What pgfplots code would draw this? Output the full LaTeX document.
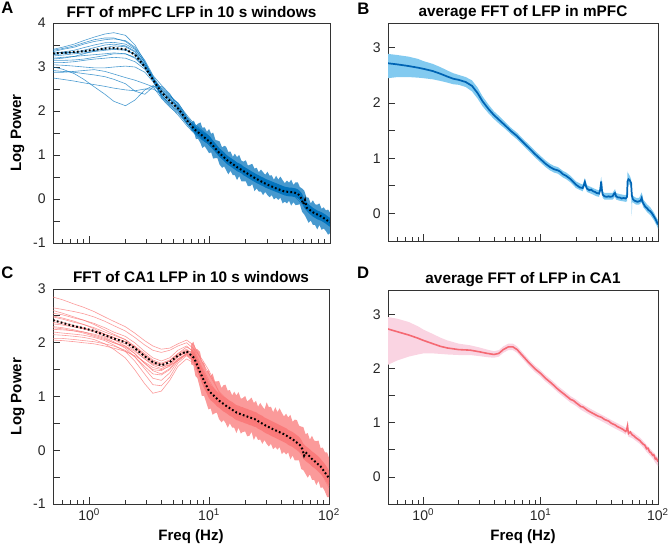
\documentclass[border=0pt]{standalone}
\usepackage{fontspec}
\setmainfont{Liberation Sans}
\usepackage{pgfplots}
\usepackage{pgfplotstable}
\usepgfplotslibrary{fillbetween}
\pgfplotsset{compat=1.18}

\definecolor{mblue}{RGB}{0,114,189}
\definecolor{bline}{RGB}{0,100,180}
\definecolor{bband}{RGB}{130,202,240}
\definecolor{cpink}{RGB}{250,120,120}
\definecolor{dline}{RGB}{245,105,115}
\definecolor{dband}{RGB}{250,212,226}

\pgfplotstableread{
f c1 c2 c3 c4 c5 c6 c7 c8 c9 c10 c11 c12 c13 c14 c15 c16
0.5 3.40 3.35 3.30 3.32 3.25 3.20 3.15 3.10 3.05 3.00 2.75 2.92 2.88 3.38 3.28 3.18
0.6 3.45 3.40 3.34 3.33 3.27 3.22 3.15 3.10 3.04 2.95 2.72 2.90 2.88 3.42 3.30 3.20
0.75 3.52 3.45 3.38 3.33 3.30 3.24 3.16 3.12 3.02 2.85 2.68 2.88 2.90 3.48 3.33 3.24
0.9 3.60 3.52 3.44 3.35 3.32 3.26 3.18 3.15 3.00 2.72 2.64 2.85 2.92 3.55 3.38 3.30
1.1 3.68 3.58 3.50 3.38 3.35 3.28 3.22 3.18 2.98 2.55 2.60 2.82 2.94 3.62 3.44 3.36
1.35 3.75 3.62 3.55 3.40 3.38 3.30 3.26 3.20 2.98 2.38 2.56 2.78 2.90 3.66 3.50 3.44
1.6 3.78 3.64 3.56 3.42 3.40 3.32 3.30 3.22 3.00 2.22 2.52 2.72 2.84 3.66 3.52 3.48
2.0 3.72 3.60 3.52 3.40 3.38 3.30 3.30 3.20 3.02 2.12 2.48 2.62 2.76 3.58 3.48 3.46
2.4 3.50 3.45 3.40 3.28 3.30 3.20 3.22 3.12 3.00 2.25 2.46 2.45 2.70 3.42 3.36 3.34
2.9 3.12 3.15 3.10 3.02 3.05 2.98 3.00 2.95 2.88 2.48 2.50 2.38 2.62 3.10 3.06 3.04
3.4 2.72 2.80 2.76 2.70 2.74 2.68 2.72 2.70 2.66 2.58 2.50 2.55 2.55 2.78 2.74 2.72
4.0 2.45 2.58 2.36 2.30 2.50 2.34 2.46 2.52 2.32 2.40 2.38 2.56 2.28 2.48 2.42 2.36
4.7 2.30 2.38 2.14 2.10 2.32 2.12 2.28 2.34 2.18 2.20 2.24 2.36 2.08 2.26 2.26 2.16
5.5 2.12 2.04 2.00 1.90 2.18 1.96 2.10 2.16 2.02 2.04 2.10 2.14 1.94 2.08 2.06 1.98
6.5 1.86 1.72 1.78 1.66 1.86 1.72 1.82 1.90 1.76 1.70 1.80 1.84 1.70 1.78 1.82 1.72
7.5 1.66 1.52 1.62 1.48 1.66 1.54 1.60 1.70 1.56 1.50 1.60 1.64 1.52 1.58 1.62 1.54
8.7 1.54 1.36 1.50 1.34 1.52 1.40 1.46 1.56 1.44 1.38 1.48 1.50 1.38 1.44 1.50 1.40
10 1.42 1.22 1.36 1.24 1.40 1.26 1.32 1.42 1.30 1.24 1.34 1.36 1.26 1.32 1.36 1.28
12 1.12 1.02 1.10 1.06 1.04 1.00 1.06 1.04 1.06 1.04 1.04 1.08 1.04 1.06 1.06 1.04
14 0.95 0.84 0.92 0.88 0.86 0.84 0.90 0.86 0.88 0.86 0.88 0.90 0.86 0.90 0.88 0.86
17 0.80 0.68 0.76 0.72 0.70 0.70 0.74 0.70 0.72 0.70 0.72 0.72 0.70 0.74 0.72 0.70
20 0.66 0.58 0.64 0.60 0.58 0.56 0.62 0.60 0.60 0.58 0.60 0.62 0.58 0.62 0.60 0.58
24 0.55 0.44 0.50 0.46 0.45 0.44 0.48 0.46 0.48 0.46 0.46 0.48 0.46 0.48 0.48 0.46
29 0.42 0.30 0.40 0.36 0.33 0.32 0.38 0.34 0.36 0.34 0.36 0.36 0.34 0.36 0.36 0.34
35 0.30 0.20 0.30 0.24 0.22 0.24 0.26 0.24 0.26 0.24 0.26 0.26 0.24 0.26 0.26 0.24
42 0.22 0.12 0.20 0.16 0.15 0.16 0.18 0.18 0.18 0.16 0.18 0.18 0.16 0.18 0.18 0.16
50 0.20 0.08 0.18 0.12 0.14 0.16 0.16 0.14 0.16 0.12 0.16 0.14 0.12 0.16 0.16 0.14
60 -0.02 -0.15 -0.05 -0.10 -0.08 -0.06 -0.04 -0.10 -0.06 -0.10 -0.06 -0.08 -0.10 -0.08 -0.06 -0.08
72 -0.25 -0.38 -0.28 -0.32 -0.30 -0.28 -0.26 -0.32 -0.30 -0.32 -0.28 -0.30 -0.34 -0.30 -0.28 -0.30
85 -0.36 -0.48 -0.38 -0.42 -0.40 -0.42 -0.36 -0.44 -0.40 -0.42 -0.38 -0.40 -0.44 -0.40 -0.40 -0.42
100 -0.50 -0.62 -0.48 -0.56 -0.52 -0.58 -0.48 -0.56 -0.50 -0.55 -0.50 -0.54 -0.58 -0.52 -0.54 -0.56
}\tblA

\pgfplotstableread{
f c1 c2 c3 c4 c5 c6 c7 c8 c9 c10 c11 c12 c13 c14 c15 c16
0.5 2.85 2.65 2.55 2.48 2.42 2.38 2.30 2.25 2.20 2.15 2.08 2.05 2.50 2.35 2.28 2.60
0.6 2.80 2.62 2.52 2.44 2.38 2.35 2.28 2.24 2.18 2.14 2.08 2.04 2.46 2.33 2.26 2.55
0.75 2.72 2.58 2.46 2.38 2.32 2.30 2.24 2.22 2.16 2.12 2.06 2.02 2.40 2.29 2.22 2.48
0.9 2.66 2.54 2.42 2.34 2.28 2.26 2.20 2.20 2.14 2.10 2.04 2.00 2.34 2.26 2.18 2.42
1.1 2.58 2.48 2.36 2.28 2.22 2.20 2.14 2.16 2.10 2.06 2.02 1.98 2.26 2.22 2.12 2.34
1.35 2.48 2.40 2.28 2.20 2.16 2.12 2.08 2.10 2.04 1.98 1.98 1.94 2.16 2.16 2.06 2.24
1.6 2.40 2.32 2.20 2.14 2.10 2.06 2.00 2.02 1.96 1.88 1.94 1.90 2.06 2.10 2.00 2.16
2.0 2.30 2.22 2.12 2.06 2.02 1.98 1.92 1.90 1.84 1.72 1.86 1.84 1.94 2.02 1.94 2.06
2.4 2.18 2.10 2.00 1.94 1.90 1.86 1.80 1.74 1.66 1.50 1.74 1.76 1.80 1.92 1.84 1.92
2.9 2.04 1.96 1.84 1.80 1.74 1.70 1.62 1.52 1.42 1.24 1.56 1.64 1.62 1.78 1.70 1.76
3.4 1.94 1.86 1.72 1.68 1.62 1.58 1.48 1.34 1.22 1.06 1.42 1.54 1.50 1.66 1.60 1.64
4.0 1.88 1.82 1.66 1.62 1.56 1.52 1.42 1.30 1.20 1.10 1.40 1.50 1.48 1.60 1.56 1.60
4.7 1.90 1.86 1.72 1.68 1.62 1.60 1.52 1.44 1.36 1.30 1.50 1.56 1.58 1.66 1.58 1.66
5.5 1.98 1.94 1.86 1.80 1.76 1.74 1.70 1.66 1.62 1.56 1.68 1.70 1.74 1.78 1.66 1.80
6.5 2.05 2.00 1.94 1.88 1.84 1.82 1.80 1.78 1.76 1.70 1.80 1.78 1.84 1.86 1.80 1.92
7.5 1.95 1.88 1.82 1.76 1.72 1.70 1.68 1.66 1.64 1.62 1.70 1.66 1.74 1.80 1.88 1.84
8.7 1.65 1.55 1.45 1.40 1.36 1.34 1.32 1.30 1.28 1.30 1.34 1.32 1.40 1.52 1.70 1.50
10 1.42 1.30 1.18 1.12 1.08 1.06 1.04 1.02 1.00 1.02 1.06 1.04 1.12 1.26 1.48 1.20
12 1.10 1.00 0.96 0.94 0.92 0.90 0.88 0.86 0.86 0.84 0.88 0.86 0.92 0.98 1.10 0.96
14 0.95 0.90 0.84 0.82 0.80 0.78 0.78 0.76 0.76 0.74 0.78 0.76 0.80 0.84 0.90 0.82
17 0.78 0.76 0.70 0.70 0.68 0.66 0.66 0.64 0.64 0.62 0.66 0.64 0.68 0.72 0.74 0.70
20 0.70 0.68 0.64 0.64 0.62 0.60 0.60 0.58 0.58 0.56 0.60 0.58 0.62 0.64 0.66 0.62
24 0.62 0.60 0.58 0.56 0.56 0.54 0.54 0.52 0.52 0.50 0.54 0.52 0.56 0.58 0.58 0.56
29 0.52 0.50 0.48 0.46 0.46 0.44 0.44 0.42 0.42 0.40 0.44 0.42 0.46 0.48 0.48 0.46
35 0.44 0.42 0.40 0.38 0.36 0.36 0.34 0.34 0.32 0.30 0.36 0.34 0.38 0.38 0.40 0.38
42 0.36 0.32 0.30 0.30 0.28 0.26 0.26 0.26 0.24 0.22 0.28 0.26 0.28 0.30 0.30 0.30
50 0.26 0.24 0.22 0.20 0.18 0.18 0.16 0.16 0.14 0.12 0.18 0.16 0.20 0.20 0.22 0.20
60 0.08 0.04 0.02 0.00 0.00 -0.02 -0.04 -0.04 -0.06 -0.08 -0.02 -0.04 0.00 0.02 0.02 0.00
72 -0.12 -0.14 -0.18 -0.20 -0.18 -0.20 -0.22 -0.24 -0.26 -0.28 -0.20 -0.22 -0.18 -0.16 -0.16 -0.18
85 -0.26 -0.30 -0.32 -0.34 -0.30 -0.32 -0.34 -0.36 -0.38 -0.40 -0.32 -0.34 -0.30 -0.28 -0.30 -0.32
100 -0.48 -0.55 -0.58 -0.60 -0.50 -0.56 -0.60 -0.62 -0.66 -0.70 -0.54 -0.58 -0.52 -0.50 -0.54 -0.56
}\tblC

% envelopes of the dense high-frequency part: outer hi/lo and inner hi/lo
\pgfplotstableread{
f oh ol ih il
7.1 1.75 1.55 1.70 1.62
7.4 1.78 1.53 1.66 1.56
7.7 1.67 1.36 1.62 1.50
8.0 1.71 1.37 1.59 1.45
8.4 1.74 1.27 1.57 1.41
8.7 1.62 1.16 1.53 1.35
9.1 1.63 1.20 1.50 1.30
9.5 1.53 1.12 1.47 1.27
9.9 1.59 1.04 1.42 1.22
10.3 1.48 1.06 1.37 1.17
10.7 1.51 0.92 1.32 1.12
11.2 1.34 0.93 1.26 1.06
11.6 1.33 0.93 1.21 1.01
12.1 1.31 0.78 1.15 0.95
12.7 1.17 0.71 1.10 0.90
13.2 1.21 0.74 1.06 0.86
13.7 1.19 0.66 1.01 0.81
14.3 1.07 0.56 0.97 0.77
14.9 1.08 0.64 0.94 0.74
15.6 0.96 0.54 0.90 0.70
16.2 1.03 0.54 0.87 0.67
16.9 0.95 0.43 0.83 0.63
17.6 1.00 0.52 0.81 0.61
18.4 0.87 0.40 0.78 0.58
19.1 0.85 0.40 0.74 0.54
20.0 0.88 0.40 0.71 0.51
20.8 0.76 0.29 0.68 0.48
21.7 0.78 0.29 0.65 0.45
22.6 0.80 0.34 0.62 0.42
23.6 0.69 0.18 0.59 0.39
24.6 0.71 0.24 0.56 0.36
25.6 0.61 0.17 0.54 0.34
26.7 0.67 0.17 0.51 0.31
27.8 0.61 0.09 0.49 0.29
29.0 0.55 0.16 0.46 0.26
30.2 0.62 0.09 0.44 0.24
31.5 0.53 0.04 0.42 0.22
32.8 0.54 0.09 0.40 0.20
34.2 0.44 -0.01 0.38 0.18
35.7 0.53 0.03 0.36 0.16
37.2 0.44 -0.02 0.34 0.14
38.7 0.51 0.03 0.32 0.12
40.4 0.43 -0.10 0.30 0.10
42.1 0.36 -0.06 0.28 0.08
43.9 0.42 -0.10 0.27 0.07
45.7 0.37 -0.04 0.26 0.06
47.6 0.44 -0.15 0.26 0.06
49.7 0.32 -0.07 0.25 0.05
51.8 0.38 -0.14 0.24 0.04
54.0 0.38 -0.13 0.22 0.02
56.2 0.27 -0.12 0.18 -0.02
58.6 0.24 -0.29 0.12 -0.08
61.1 0.19 -0.35 0.00 -0.20
63.7 0.04 -0.44 -0.06 -0.26
66.4 0.03 -0.54 -0.12 -0.32
69.2 -0.10 -0.49 -0.16 -0.36
72.1 -0.03 -0.59 -0.20 -0.40
75.2 -0.12 -0.59 -0.23 -0.43
78.3 -0.13 -0.69 -0.26 -0.46
81.7 -0.10 -0.59 -0.28 -0.48
85.1 -0.22 -0.70 -0.30 -0.50
88.7 -0.19 -0.67 -0.33 -0.53
92.5 -0.26 -0.73 -0.36 -0.56
96.4 -0.24 -0.81 -0.40 -0.60
100 -0.31 -0.78 -0.43 -0.63
}\bandA

\pgfplotstableread{
f oh ol ih il
7.1 1.97 1.60 1.86 1.70
7.4 2.02 1.58 1.83 1.65
7.7 1.89 1.38 1.77 1.57
8.0 1.88 1.34 1.69 1.47
8.4 1.83 1.16 1.59 1.35
8.7 1.66 1.01 1.51 1.25
9.1 1.62 1.01 1.43 1.15
9.5 1.47 0.88 1.35 1.07
9.9 1.49 0.76 1.26 0.98
10.3 1.38 0.78 1.21 0.93
10.7 1.43 0.66 1.18 0.90
11.2 1.28 0.69 1.14 0.86
11.6 1.28 0.70 1.10 0.82
12.1 1.29 0.58 1.07 0.79
12.7 1.16 0.52 1.03 0.75
13.2 1.21 0.56 1.00 0.72
13.7 1.22 0.51 0.98 0.70
14.3 1.11 0.42 0.95 0.67
14.9 1.12 0.50 0.92 0.64
15.6 1.02 0.42 0.90 0.62
16.2 1.09 0.42 0.87 0.59
16.9 1.02 0.32 0.84 0.56
17.6 1.08 0.42 0.83 0.55
18.4 0.96 0.31 0.81 0.53
19.1 0.97 0.34 0.80 0.52
20.0 1.01 0.35 0.78 0.50
20.8 0.91 0.26 0.77 0.49
21.7 0.94 0.27 0.75 0.47
22.6 0.98 0.34 0.74 0.46
23.6 0.88 0.19 0.72 0.44
24.6 0.92 0.27 0.71 0.43
25.6 0.81 0.19 0.68 0.40
26.7 0.88 0.20 0.66 0.38
27.8 0.82 0.12 0.64 0.36
29.0 0.76 0.19 0.61 0.33
30.2 0.89 0.12 0.59 0.31
31.5 0.80 0.07 0.57 0.29
32.8 0.81 0.12 0.55 0.27
34.2 0.71 0.02 0.53 0.25
35.7 0.80 0.06 0.51 0.23
37.2 0.71 0.01 0.49 0.21
38.7 0.78 0.06 0.47 0.19
40.4 0.70 -0.07 0.45 0.17
42.1 0.63 -0.03 0.43 0.15
43.9 0.68 -0.08 0.41 0.13
45.7 0.61 -0.04 0.38 0.10
47.6 0.66 -0.17 0.36 0.08
49.7 0.53 -0.10 0.34 0.06
51.8 0.57 -0.19 0.31 0.03
54.0 0.56 -0.19 0.28 0.00
56.2 0.46 -0.19 0.25 -0.03
58.6 0.44 -0.35 0.20 -0.08
61.1 0.43 -0.37 0.12 -0.16
63.7 0.30 -0.44 0.08 -0.20
66.4 0.32 -0.51 0.05 -0.23
69.2 0.20 -0.45 0.02 -0.26
72.1 0.27 -0.55 -0.02 -0.30
75.2 0.18 -0.55 -0.05 -0.33
78.3 0.17 -0.65 -0.08 -0.36
81.7 0.18 -0.57 -0.12 -0.40
85.1 0.04 -0.70 -0.16 -0.44
88.7 0.05 -0.69 -0.21 -0.49
92.5 -0.04 -0.77 -0.26 -0.54
96.4 -0.04 -0.87 -0.32 -0.60
100 -0.14 -0.87 -0.38 -0.66
}\bandC

\pgfplotsset{
  panel/.style={
    scale only axis, xmin=0.5, xmax=100,
    axis line style={black!80, line width=0.7pt},
    tick align=inside, xtick pos=left, ytick pos=left,
    xtick={1,10,100},
    minor xtick={0.6,0.7,0.8,0.9,2,3,4,5,6,7,8,9,20,30,40,50,60,70,80,90},
    major tick length=5pt, minor tick length=3.2pt,
    every tick/.style={black!80, line width=0.6pt},
    tick label style={font=\fontsize{10.5}{12}\selectfont, black!85},
    yticklabel style={xshift=-2pt},
    title style={font=\fontsize{11.5}{13}\bfseries\selectfont, at={(axis description cs:0.5,1)}, anchor=base, yshift=-1.5pt},
    ylabel style={font=\fontsize{11.3}{13}\bfseries\selectfont, at={(axis description cs:-0.128,0.5)}, anchor=center},
    xlabel style={font=\fontsize{11.3}{13}\bfseries\selectfont, at={(axis description cs:0.5,-0.172)}, anchor=base},
    no markers, clip=true,
  },
  toplab/.style={xticklabels={,,}},
  botlab/.style={xticklabels={10\textsuperscript{0},10\textsuperscript{1},10\textsuperscript{2}}, xlabel={Freq (Hz)}},
  aline/.style={mblue, line width=0.45pt, opacity=0.7, forget plot},
  cline/.style={cpink, line width=0.45pt, opacity=0.75, forget plot},
  meanline/.style={black, line width=1.5pt, dash pattern=on 1.3pt off 1.7pt},
}

\begin{document}
\begin{tikzpicture}

% Panel A
\begin{semilogxaxis}[panel, toplab, at={(39.75pt,230.25pt)}, anchor=south west,
  width=207.75pt, height=165pt, ymin=-1, ymax=4,
  ytick={-1,-0.5,0,0.5,1,1.5,2,2.5,3,3.5,4}, yticklabels={-1,,0,,1,,2,,3,,4},
  title={FFT of mPFC LFP in 10 s windows}, ylabel={Log Power}]
\addplot[name path=aoh, draw=none, forget plot] table[x=f,y=oh]{\bandA};
\addplot[name path=aol, draw=none, forget plot] table[x=f,y=ol]{\bandA};
\addplot[fill=mblue, fill opacity=0.72, draw=none, forget plot] fill between[of=aoh and aol];
\pgfplotsinvokeforeach{1,...,16}{\addplot[aline] table[x=f,y=c#1]{\tblA};}
\addplot[name path=aih, draw=none, forget plot] table[x=f,y=ih]{\bandA};
\addplot[name path=ail, draw=none, forget plot] table[x=f,y=il]{\bandA};
\addplot[fill=mblue, fill opacity=0.95, draw=none, forget plot] fill between[of=aih and ail];
\addplot[meanline] coordinates {
(0.5,3.31)(0.6,3.32)(0.75,3.34)(0.9,3.36)(1.1,3.39)(1.35,3.42)(1.6,3.43)(2.0,3.40)(2.4,3.28)(2.9,3.00)(3.4,2.70)(4.0,2.42)(4.7,2.22)(5.5,2.05)(6.5,1.78)(7.5,1.58)(8.7,1.44)(10,1.30)(12,1.05)(14,0.88)(17,0.72)(20,0.60)(24,0.47)(29,0.35)(35,0.25)(42,0.17)(50,0.15)(54,0.12)(57,0.05)(60,-0.12)(62,-0.02)(64,-0.20)(72,-0.30)(85,-0.40)(100,-0.53)};
\end{semilogxaxis}

% Panel B
\begin{semilogxaxis}[panel, toplab, at={(291pt,231.75pt)}, anchor=south west,
  width=202.5pt, height=163.5pt, ymin=-0.5, ymax=3.45,
  ytick={0,0.5,1,1.5,2,2.5,3}, yticklabels={0,,1,,2,,3},
  title={average FFT of LFP in mPFC}]
\addplot[fill=bband, draw=none, forget plot] coordinates {
(0.5,2.89)(0.6,2.87)(0.75,2.84)(0.9,2.80)(1.0,2.76)(1.2,2.71)(1.4,2.65)(1.6,2.59)(1.8,2.54)(2.0,2.51)(2.3,2.47)(2.6,2.41)(2.9,2.28)(3.2,2.12)(3.6,1.97)(4.0,1.85)(4.5,1.75)(5.0,1.65)(5.6,1.55)(6.3,1.46)(7.0,1.36)(8.0,1.24)(9.0,1.13)(10,1.04)(11,0.96)(12,0.90)(13,0.86)(14,0.84)(15.5,0.77)(16.5,0.74)(18,0.68)(20,0.58)(22.8,0.52)(23.8,0.64)(24.8,0.51)(28,0.46)(30,0.43)(31.5,0.42)(32.8,0.66)(33.8,0.40)(35,0.37)(38,0.37)(41,0.37)(43,0.44)(44,0.37)(47,0.35)(53,0.33)(54.5,0.40)(55,0.76)(56,0.72)(57.5,0.68)(59,0.62)(59.8,0.40)(61,0.32)(65,0.28)(69,0.28)(72.6,0.38)(75,0.25)(81,0.16)(86,0.11)(92,0.02)(98,-0.09)(100,-0.12)
(100,-0.28)(98,-0.23)(92,-0.12)(86,-0.03)(81,0.02)(75,0.11)(72.6,0.20)(69,0.16)(65,0.16)(61,0.20)(60.3,0.20)(59.8,-0.05)(59,0.48)(57.5,0.52)(56,0.52)(55,0.44)(54.5,0.22)(53,0.21)(47,0.23)(44,0.25)(43,0.30)(41,0.25)(38,0.25)(35,0.25)(33.8,0.28)(32.8,0.50)(31.5,0.30)(30,0.31)(28,0.34)(24.8,0.39)(23.8,0.50)(22.8,0.40)(20,0.46)(18,0.56)(16.5,0.62)(15.5,0.65)(14,0.72)(13,0.74)(12,0.78)(11,0.84)(10,0.92)(9.0,1.01)(8.0,1.12)(7.0,1.24)(6.3,1.34)(5.6,1.43)(5.0,1.53)(4.5,1.61)(4.0,1.71)(3.6,1.81)(3.2,1.94)(2.9,2.08)(2.6,2.21)(2.3,2.29)(2.0,2.33)(1.8,2.34)(1.6,2.37)(1.4,2.40)(1.2,2.43)(1.0,2.45)(0.9,2.46)(0.75,2.47)(0.6,2.47)(0.5,2.45)
} -- cycle;
\addplot[bline, line width=1.3pt] coordinates {
(0.5,2.72)(0.6,2.70)(0.75,2.67)(0.9,2.64)(1.0,2.62)(1.2,2.58)(1.4,2.53)(1.6,2.48)(1.8,2.44)(2.0,2.42)(2.3,2.38)(2.6,2.31)(2.9,2.18)(3.2,2.03)(3.6,1.89)(4.0,1.78)(4.5,1.68)(5.0,1.59)(5.6,1.49)(6.3,1.40)(7.0,1.30)(8.0,1.18)(9.0,1.07)(10,0.98)(11,0.90)(12,0.84)(13,0.80)(14,0.78)(14.6,0.76)(15.5,0.71)(16.5,0.68)(18,0.62)(19,0.57)(20,0.52)(21.6,0.47)(22.8,0.46)(23.4,0.52)(23.8,0.57)(24.3,0.50)(24.8,0.45)(26,0.42)(27,0.43)(28,0.40)(29,0.39)(30,0.37)(31.5,0.36)(32.3,0.44)(32.8,0.58)(33.3,0.42)(33.8,0.34)(35,0.31)(36.5,0.30)(38,0.31)(39,0.30)(41,0.31)(42,0.35)(43,0.37)(44,0.31)(45.5,0.29)(47,0.29)(49,0.27)(51,0.28)(53,0.27)(54.5,0.30)(55,0.58)(56,0.62)(57.5,0.60)(59,0.55)(59.8,0.33)(61,0.26)(63,0.23)(65,0.22)(67,0.21)(69,0.22)(71,0.23)(72.6,0.28)(73.5,0.22)(75,0.18)(78,0.12)(81,0.09)(83,0.06)(86,0.04)(89,0.00)(92,-0.05)(95,-0.10)(98,-0.16)(100,-0.20)};
\end{semilogxaxis}

% Panel C
\begin{semilogxaxis}[panel, botlab, at={(39.75pt,34.5pt)}, anchor=south west,
  width=207pt, height=161.25pt, ymin=-1, ymax=3,
  ytick={-1,-0.5,0,0.5,1,1.5,2,2.5,3}, yticklabels={-1,,0,,1,,2,,3},
  title={FFT of CA1 LFP in 10 s windows}, ylabel={Log Power}]
\addplot[name path=coh, draw=none, forget plot] table[x=f,y=oh]{\bandC};
\addplot[name path=col, draw=none, forget plot] table[x=f,y=ol]{\bandC};
\addplot[fill=cpink, fill opacity=0.75, draw=none, forget plot] fill between[of=coh and col];
\pgfplotsinvokeforeach{1,...,16}{\addplot[cline] table[x=f,y=c#1]{\tblC};}
\addplot[name path=cih, draw=none, forget plot] table[x=f,y=ih]{\bandC};
\addplot[name path=cil, draw=none, forget plot] table[x=f,y=il]{\bandC};
\addplot[fill=cpink, fill opacity=0.9, draw=none, forget plot] fill between[of=cih and cil];
\addplot[meanline] coordinates {
(0.5,2.42)(0.6,2.37)(0.75,2.31)(0.9,2.27)(1.1,2.22)(1.35,2.14)(1.6,2.08)(2.0,2.01)(2.4,1.90)(2.9,1.75)(3.4,1.64)(4.0,1.58)(4.7,1.64)(5.5,1.76)(6.5,1.84)(7.5,1.72)(8.7,1.38)(10,1.10)(12,0.93)(14,0.82)(17,0.70)(20,0.64)(24,0.58)(29,0.47)(35,0.38)(42,0.30)(50,0.20)(57,0.10)(60,0.02)(62,-0.10)(64,-0.04)(72,-0.16)(85,-0.30)(100,-0.52)};
\end{semilogxaxis}

% Panel D
\begin{semilogxaxis}[panel, botlab, at={(291pt,34.5pt)}, anchor=south west,
  width=202.5pt, height=160.5pt, ymin=-0.5, ymax=3.45,
  ytick={0,0.5,1,1.5,2,2.5,3}, yticklabels={0,,1,,2,,3},
  title={average FFT of LFP in CA1}]
\addplot[fill=dband, draw=none, forget plot] coordinates {
(0.5,2.95)(0.6,2.92)(0.75,2.86)(0.9,2.78)(1.0,2.72)(1.2,2.64)(1.4,2.57)(1.6,2.52)(2.0,2.46)(2.5,2.43)(3.0,2.39)(3.5,2.35)(4.0,2.32)(4.4,2.34)(4.8,2.41)(5.3,2.46)(5.8,2.46)(6.3,2.41)(7.0,2.30)(8.0,2.16)(9.0,2.05)(10,1.97)(11,1.88)(12.5,1.78)(14,1.68)(16,1.58)(18,1.49)(20,1.43)(22,1.36)(25,1.29)(28,1.23)(31,1.18)(35,1.12)(40,1.05)(45,0.99)(50,0.94)(53,0.90)(55,1.00)(56,0.86)(60,0.84)(66,0.77)(70,0.73)(75,0.66)(80,0.59)(85,0.53)(90,0.47)(95,0.41)(100,0.36)
(100,0.20)(95,0.26)(90,0.34)(85,0.40)(80,0.46)(75,0.54)(70,0.61)(66,0.65)(60,0.72)(56,0.74)(55,0.84)(53,0.78)(50,0.82)(45,0.87)(40,0.93)(35,1.00)(31,1.06)(28,1.11)(25,1.17)(22,1.24)(20,1.31)(18,1.37)(16,1.46)(14,1.56)(12.5,1.66)(11,1.76)(10,1.85)(9.0,1.93)(8.0,2.04)(7.0,2.18)(6.3,2.29)(5.8,2.34)(5.3,2.34)(4.8,2.29)(4.4,2.22)(4.0,2.20)(3.5,2.21)(3.0,2.23)(2.5,2.25)(2.0,2.25)(1.6,2.26)(1.4,2.27)(1.2,2.28)(1.0,2.28)(0.9,2.26)(0.75,2.22)(0.6,2.15)(0.5,2.07)
} -- cycle;
\addplot[dline, line width=1.2pt] coordinates {
(0.5,2.73)(0.6,2.68)(0.75,2.62)(0.9,2.56)(1.0,2.52)(1.2,2.46)(1.4,2.41)(1.6,2.38)(2.0,2.35)(2.5,2.34)(3.0,2.31)(3.5,2.28)(4.0,2.26)(4.4,2.28)(4.8,2.35)(5.3,2.40)(5.8,2.40)(6.3,2.35)(7.0,2.24)(8.0,2.10)(9.0,1.99)(10,1.91)(11,1.82)(12.5,1.72)(14,1.62)(16,1.52)(18,1.43)(19,1.41)(20,1.37)(22,1.30)(23,1.29)(25,1.23)(28,1.17)(31,1.12)(33,1.10)(35,1.06)(38,1.03)(40,0.99)(43,0.96)(45,0.93)(48,0.90)(50,0.88)(53,0.84)(54,0.86)(55,0.94)(55.6,0.84)(56,0.80)(58,0.83)(60,0.78)(62,0.76)(64,0.73)(66,0.71)(68,0.69)(70,0.67)(72,0.64)(75,0.60)(77,0.59)(80,0.52)(82,0.53)(85,0.46)(87,0.45)(90,0.40)(92,0.41)(95,0.33)(97,0.34)(100,0.28)};
\end{semilogxaxis}

\node[font=\fontsize{12.5}{14}\bfseries\selectfont, anchor=base] at (5.6pt,402.5pt) {A};
\node[font=\fontsize{12.5}{14}\bfseries\selectfont, anchor=base] at (272.6pt,401.25pt) {B};
\node[font=\fontsize{12.5}{14}\bfseries\selectfont, anchor=base] at (5.6pt,203.5pt) {C};
\node[font=\fontsize{12.5}{14}\bfseries\selectfont, anchor=base] at (272.3pt,203.5pt) {D};
\pgfresetboundingbox
\useasboundingbox (0,0) rectangle (504pt,412.5pt);
\end{tikzpicture}
\end{document}
